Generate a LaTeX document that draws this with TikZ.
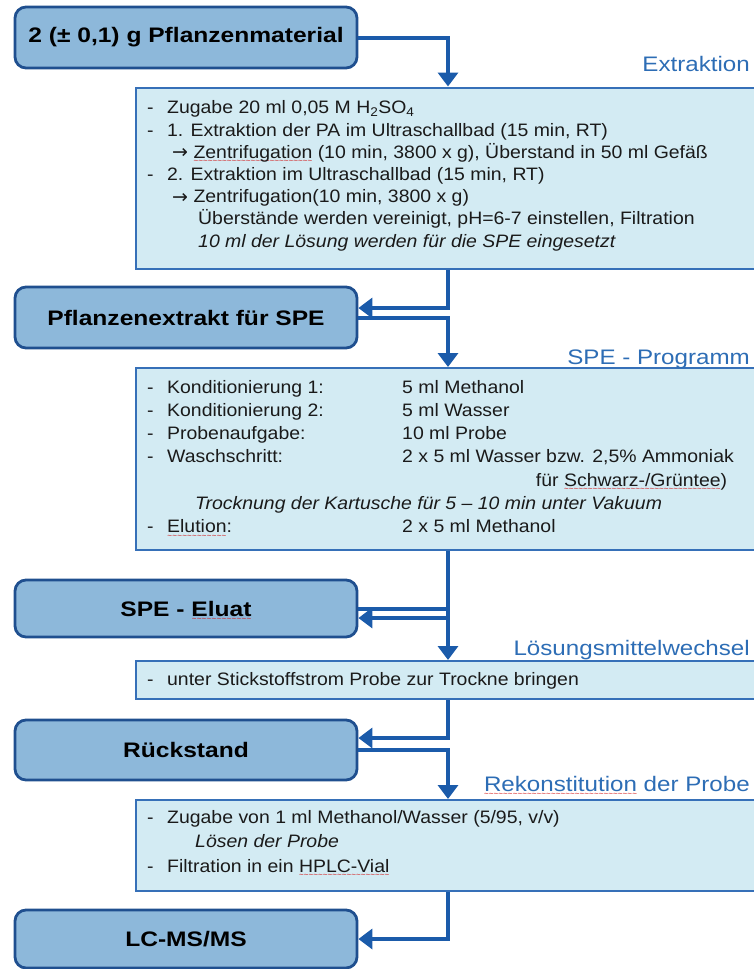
\documentclass[tikz,border=0pt]{standalone}
\usepackage{fontspec}
\setmainfont{Liberation Sans}
\newfontfamily\bodyfont[FakeStretch=1.08]{Liberation Sans}
\newfontfamily\boldfont[FakeStretch=1.17]{Liberation Sans}
\newfontfamily\labfont[FakeStretch=1.15]{Liberation Sans}
\newfontfamily\wavefont{Liberation Sans}
\newfontfamily\arrowfont{DejaVu Sans}
\usetikzlibrary{arrows.meta,calc}
\definecolor{bigfill}{HTML}{8DB8DA}
\definecolor{bigdraw}{HTML}{1F4F8F}
\definecolor{lfill}{HTML}{D3EBF3}
\definecolor{ldraw}{HTML}{3670B8}
\definecolor{arrc}{HTML}{1B5BAA}
\definecolor{labc}{HTML}{2D6DB5}
\definecolor{txt}{HTML}{1A1A1A}
\definecolor{spellc}{HTML}{D42020}
\newsavebox\spellbox
\newcommand\spellmark[1]{\sbox\spellbox{#1}\rlap{\raisebox{-5.5pt}[0pt][0pt]{\textcolor{spellc}{\wavefont\mdseries\fontsize{8}{8}\selectfont\xleaders\hbox{\char126}\hskip\wd\spellbox}}}#1}
\newcommand\rarr{\raisebox{-0.5pt}{\arrowfont\fontsize{19}{19}\selectfont →}}
\begin{document}
\begin{tikzpicture}[x=1pt,y=-1pt,
 bigbox/.style={draw=bigdraw, fill=bigfill, line width=2.8pt, rounded corners=11pt, minimum width=342pt, font=\boldfont\fontsize{21}{25}\selectfont\bfseries, text=black, inner sep=0},
 lbox/.style={draw=ldraw, fill=lfill, line width=2pt, anchor=north west, inner sep=0, minimum width=650pt},
 conn/.style={draw=arrc, line width=4pt},
 arr/.style={conn, -{Triangle[width=20pt,length=14pt]}},
 lab/.style={anchor=base east, text=labc, font=\labfont\fontsize{21}{25}\selectfont, inner sep=0},
 body/.style={anchor=base west, align=left, text=txt, inner sep=0}]
\useasboundingbox (0,0) rectangle (754,969);
\clip (0,0) rectangle (754,969);
\coordinate (vx) at (448,0);
% main boxes
\node[bigbox, minimum height=61pt] (b1) at (186,37.5) {2 (± 0,1) g Pflanzenmaterial};
\node[bigbox, minimum height=61pt] (b2) at (186,317.5) {Pflanzenextrakt für SPE};
\node[bigbox, minimum height=57pt] (b3) at (186,608.5) {SPE - \spellmark{Eluat}};
\node[bigbox, minimum height=60pt] (b4) at (186,750) {Rückstand};
\node[bigbox, minimum height=58pt] (b5) at (186,939) {LC-MS/MS};
% light boxes
\node[lbox, minimum height=181pt] (ext) at (135,86.5) {};
\node[lbox, minimum height=182pt] (spe) at (135,367) {};
\node[lbox, minimum height=38pt] (los) at (135,660) {};
\node[lbox, minimum height=91pt] (rek) at (135,799) {};
% labels
\node[lab] (lext) at (750,71) {Extraktion};
\node[lab] (lspe) at (750,364) {SPE - Programm};
\node[lab] (llos) at (750,655) {Lösungsmittelwechsel};
\node[lab] (lrek) at (750,791) {\spellmark{Rekonstitution} der Probe};
% body texts (anchor at baseline of last line)
\node[body, font=\bodyfont\fontsize{18}{22.2}\selectfont] (text1) at (147,247) {%
\makebox[20pt][l]{-}Zugabe 20 ml 0,05 M H\textsubscript{2}SO\textsubscript{4}\\
\makebox[20pt][l]{-}1. Extraktion der PA im Ultraschallbad (15 min, RT)\\
\hspace{25pt}\rarr\ \spellmark{Zentrifugation} (10 min, 3800 x g), Überstand in 50 ml Gefäß\\
\makebox[20pt][l]{-}2. Extraktion im Ultraschallbad (15 min, RT)\\
\hspace{25pt}\rarr\ Zentrifugation(10 min, 3800 x g)\\
\hspace{51pt}Überstände werden vereinigt, pH=6-7 einstellen, Filtration\\
\hspace{51pt}\textit{10 ml der Lösung werden für die SPE eingesetzt}};
\node[body, font=\bodyfont\fontsize{18}{23.3}\selectfont] (text2) at (147,532.8) {%
\makebox[255pt][l]{\makebox[20pt][l]{-}Konditionierung 1:}5 ml Methanol\\
\makebox[255pt][l]{\makebox[20pt][l]{-}Konditionierung 2:}5 ml Wasser\\
\makebox[255pt][l]{\makebox[20pt][l]{-}Probenaufgabe:}10 ml Probe\\
\makebox[255pt][l]{\makebox[20pt][l]{-}Waschschritt:}2 x 5 ml Wasser bzw. 2,5\% Ammoniak\\
\makebox[580pt][r]{für \spellmark{Schwarz-/Grüntee})}\\
\hspace{48pt}\textit{Trocknung der Kartusche für 5 – 10 min unter Vakuum}\\
\makebox[255pt][l]{\makebox[20pt][l]{-}\spellmark{Elution}:}2 x 5 ml Methanol};
\node[body, font=\bodyfont\fontsize{18}{22.2}\selectfont] (text3) at (147,685) {%
\makebox[20pt][l]{-}unter Stickstoffstrom Probe zur Trockne bringen};
\node[body, font=\bodyfont\fontsize{18}{24.5}\selectfont] (text4) at (147,872) {%
\makebox[20pt][l]{-}Zugabe von 1 ml Methanol/Wasser (5/95, v/v)\\
\hspace{48pt}\textit{Lösen der Probe}\\
\makebox[20pt][l]{-}Filtration in ein \spellmark{HPLC-Vial}};
% connectors
\draw[arr] (b1.east) -| (vx |- ext.north);
\draw[arr] (vx |- ext.south) |- ([yshift=9.5pt]b2.east);
\draw[arr] (b2.east) -| (vx |- spe.north);
\draw[arr] (vx |- spe.south) |- ([yshift=-9.5pt]b3.east);
\draw[arr] (b3.east) -| (vx |- los.north);
\draw[arr] (vx |- los.south) |- ([yshift=12pt]b4.east);
\draw[arr] (b4.east) -| (vx |- rek.north);
\draw[arr] (vx |- rek.south) |- (b5.east);
\end{tikzpicture}
\end{document}
